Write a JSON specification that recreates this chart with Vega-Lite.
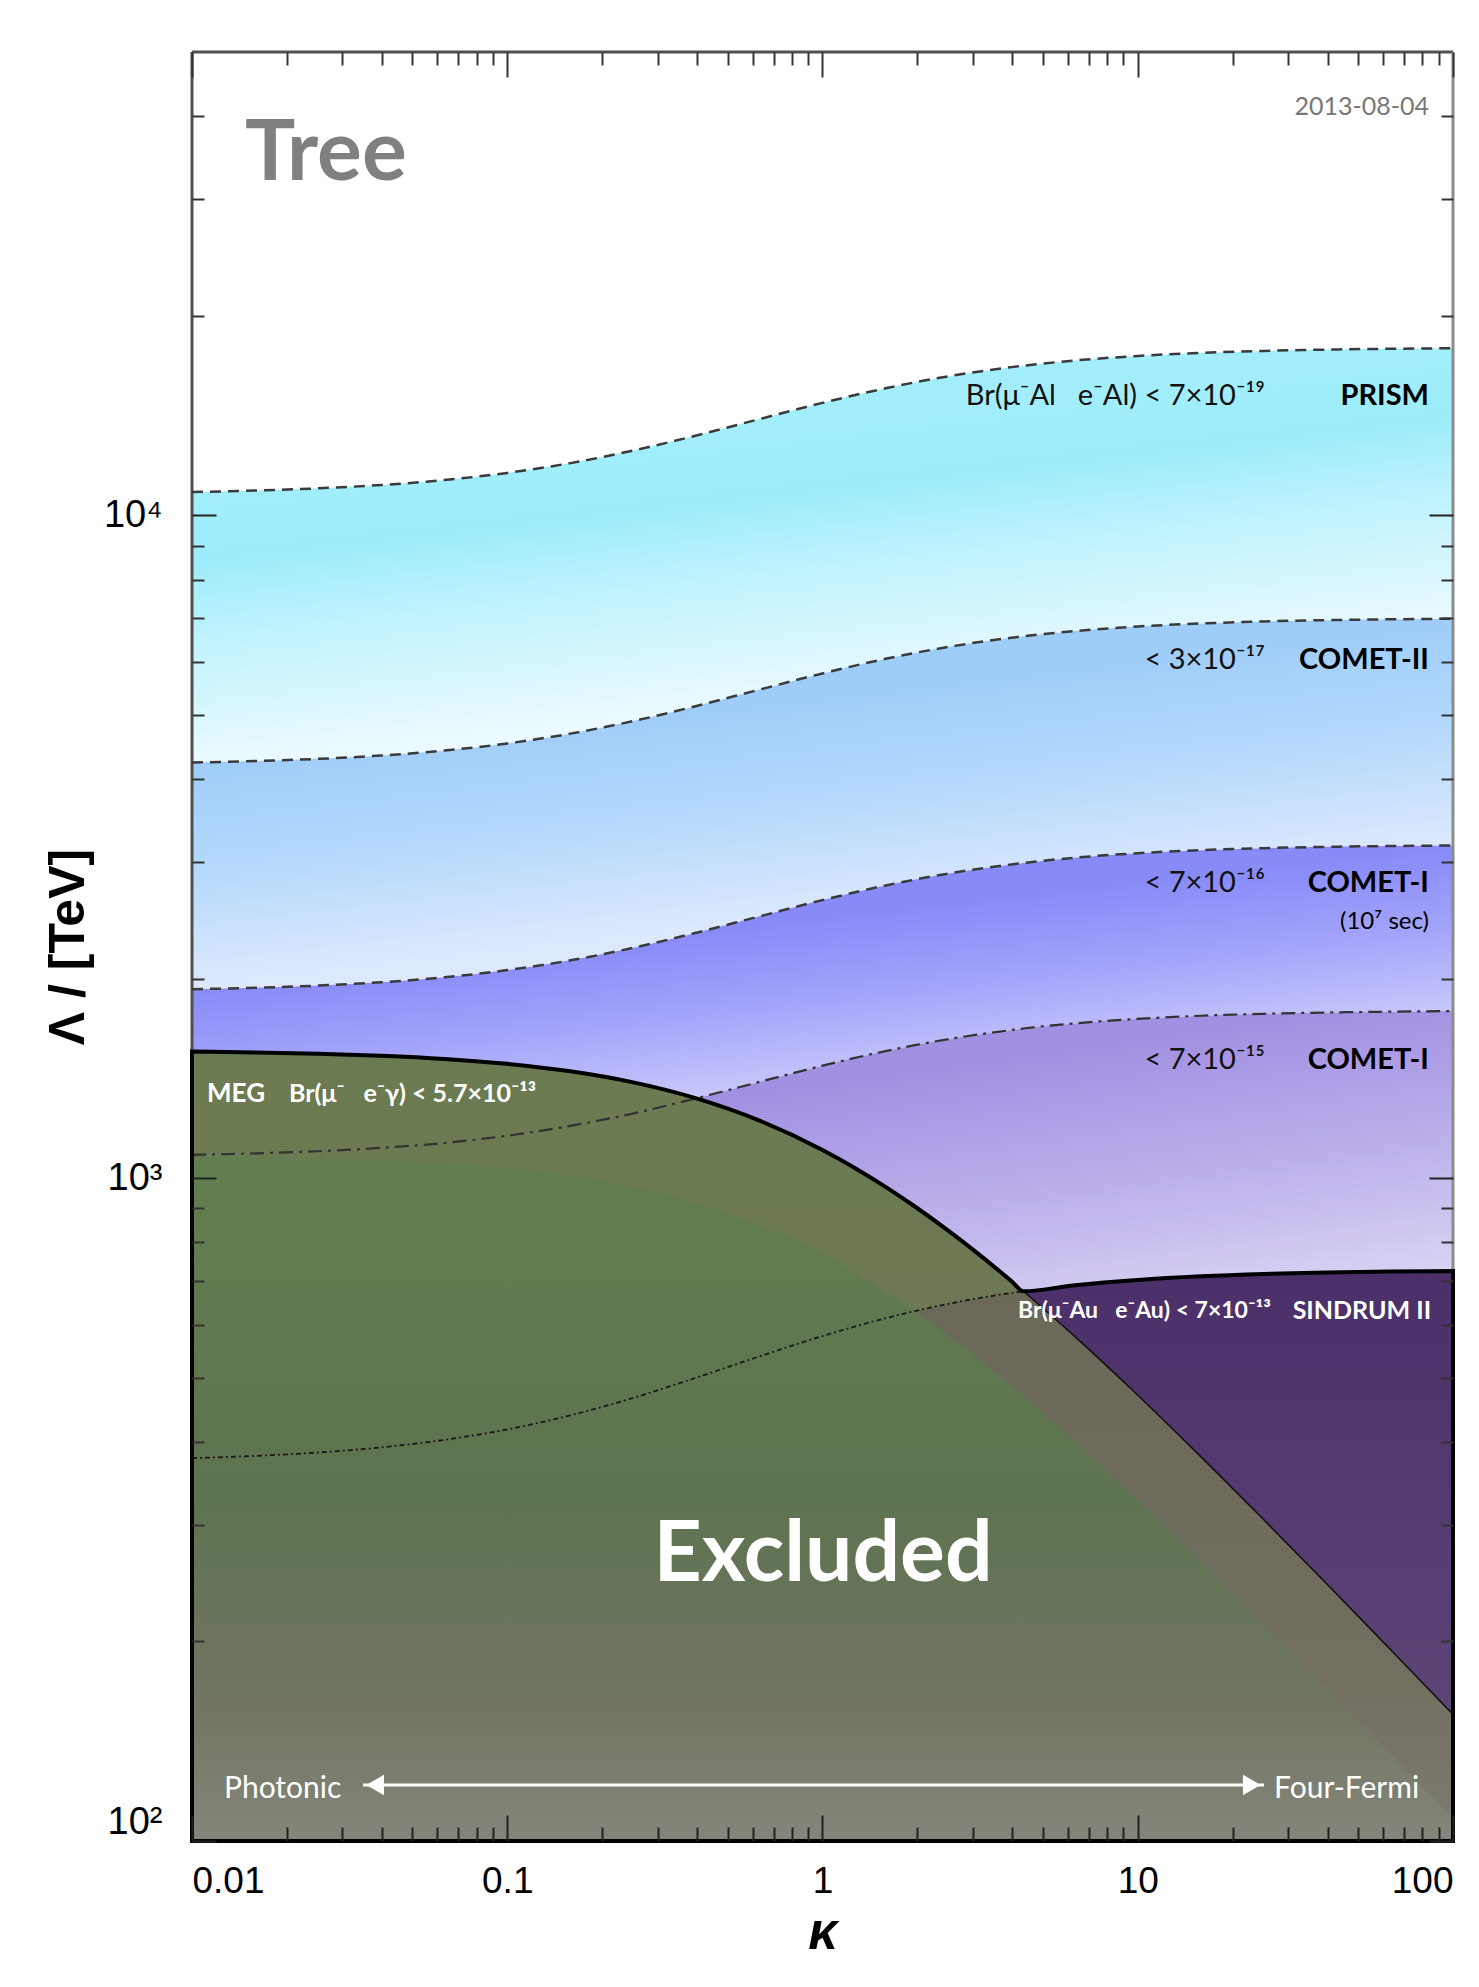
{
  "$schema": "https://vega.github.io/schema/vega-lite/v6.json",
  "width": 1261,
  "height": 1789,
  "autosize": "none",
  "padding": {"left": 192, "top": 52, "right": 26, "bottom": 146},
  "background": "#ffffff",
  "config": {"view": {"stroke": null}, "axis": {"grid": false}},
  "datasets": {
    "curves": [
      {"k": 0.01, "prism": 10844, "comet2": 4237, "comet1L": 1928, "comet1": 1084, "sindrum": 378.1, "meg": 1552.3, "meg11": 1079.6, "limit": 1552.3},
      {"k": 0.01585, "prism": 10898, "comet2": 4258, "comet1L": 1937, "comet1": 1090, "sindrum": 381.1, "meg": 1547.8, "meg11": 1076.5, "limit": 1547.8},
      {"k": 0.02512, "prism": 10982, "comet2": 4291, "comet1L": 1952, "comet1": 1098, "sindrum": 385.6, "meg": 1540.8, "meg11": 1071.6, "limit": 1540.8},
      {"k": 0.03981, "prism": 11110, "comet2": 4341, "comet1L": 1975, "comet1": 1111, "sindrum": 392.5, "meg": 1529.8, "meg11": 1064.0, "limit": 1529.8},
      {"k": 0.0631, "prism": 11304, "comet2": 4416, "comet1L": 2009, "comet1": 1130, "sindrum": 402.8, "meg": 1513.0, "meg11": 1052.3, "limit": 1513.0},
      {"k": 0.1, "prism": 11587, "comet2": 4527, "comet1L": 2060, "comet1": 1159, "sindrum": 417.8, "meg": 1487.4, "meg11": 1034.5, "limit": 1487.4},
      {"k": 0.1585, "prism": 11988, "comet2": 4684, "comet1L": 2131, "comet1": 1199, "sindrum": 438.7, "meg": 1449.3, "meg11": 1008.0, "limit": 1449.3},
      {"k": 0.2512, "prism": 12524, "comet2": 4893, "comet1L": 2226, "comet1": 1252, "sindrum": 466.2, "meg": 1394.6, "meg11": 970.0, "limit": 1394.6},
      {"k": 0.3981, "prism": 13196, "comet2": 5156, "comet1L": 2346, "comet1": 1320, "sindrum": 500.1, "meg": 1319.3, "meg11": 917.6, "limit": 1319.3},
      {"k": 0.631, "prism": 13969, "comet2": 5458, "comet1L": 2483, "comet1": 1397, "sindrum": 538.4, "meg": 1221.5, "meg11": 849.6, "limit": 1221.5},
      {"k": 1, "prism": 14779, "comet2": 5774, "comet1L": 2627, "comet1": 1478, "sindrum": 577.8, "meg": 1103.1, "meg11": 767.2, "limit": 1103.1},
      {"k": 1.585, "prism": 15546, "comet2": 6074, "comet1L": 2764, "comet1": 1555, "sindrum": 614.8, "meg": 970.3, "meg11": 674.8, "limit": 970.3},
      {"k": 1.9635, "prism": 15870, "comet2": 6200, "comet1L": 2821, "comet1": 1587, "sindrum": 630.3, "meg": 906.2, "meg11": 630.3, "limit": 906.2},
      {"k": 2.512, "prism": 16208, "comet2": 6332, "comet1L": 2881, "comet1": 1621, "sindrum": 646.4, "meg": 832.4, "meg11": 579.0, "limit": 832.4},
      {"k": 3.981, "prism": 16732, "comet2": 6537, "comet1L": 2974, "comet1": 1673, "sindrum": 671.2, "meg": 699.0, "meg11": 486.2, "limit": 699.0},
      {"k": 4.34, "prism": 16815, "comet2": 6570, "comet1L": 2989, "comet1": 1682, "sindrum": 675.1, "meg": 675.1, "meg11": 469.5, "limit": 675.1},
      {"k": 6.31, "prism": 17121, "comet2": 6689, "comet1L": 3044, "comet1": 1712, "sindrum": 689.5, "meg": 577.0, "meg11": 401.3, "limit": 689.5},
      {"k": 10, "prism": 17394, "comet2": 6796, "comet1L": 3092, "comet1": 1739, "sindrum": 702.3, "meg": 470.4, "meg11": 327.1, "limit": 702.3},
      {"k": 15.85, "prism": 17580, "comet2": 6868, "comet1L": 3125, "comet1": 1758, "sindrum": 711.0, "meg": 380.0, "meg11": 264.3, "limit": 711.0},
      {"k": 25.12, "prism": 17703, "comet2": 6916, "comet1L": 3147, "comet1": 1770, "sindrum": 716.8, "meg": 305.2, "meg11": 212.3, "limit": 716.8},
      {"k": 39.81, "prism": 17783, "comet2": 6948, "comet1L": 3161, "comet1": 1778, "sindrum": 720.5, "meg": 244.2, "meg11": 169.8, "limit": 720.5},
      {"k": 63.1, "prism": 17834, "comet2": 6968, "comet1L": 3170, "comet1": 1783, "sindrum": 722.9, "meg": 194.8, "meg11": 135.5, "limit": 722.9},
      {"k": 100, "prism": 17867, "comet2": 6981, "comet1L": 3176, "comet1": 1787, "sindrum": 724.5, "meg": 155.2, "meg11": 108.0, "limit": 724.5}
    ],
    "notes": [
      {"kind": "stamp", "label": "Tree", "k": 0.01473, "L": 32060},
      {"kind": "date", "label": "2013-08-04", "k": 83.9, "L": 40190},
      {"kind": "rate", "label": "Br(μ⁻Al\u2002 e⁻Al) < 7×10⁻¹⁹", "k": 25.33, "L": 14650},
      {"kind": "rate", "label": "< 3×10⁻¹⁷", "k": 25.33, "L": 5866},
      {"kind": "rate", "label": "< 7×10⁻¹⁶", "k": 25.33, "L": 2703},
      {"kind": "rate", "label": "< 7×10⁻¹⁵", "k": 25.33, "L": 1461},
      {"kind": "expt", "label": "PRISM", "k": 83.9, "L": 14650},
      {"kind": "expt", "label": "COMET-II", "k": 83.9, "L": 5866},
      {"kind": "expt", "label": "COMET-I", "k": 83.9, "L": 2700},
      {"kind": "expt", "label": "COMET-I", "k": 83.9, "L": 1462},
      {"kind": "runtime", "label": "(10⁷ sec)", "k": 83.9, "L": 2377},
      {"kind": "megname", "label": "MEG", "k": 0.01116, "L": 1303},
      {"kind": "megrate", "label": "Br(μ⁻\u2002 e⁻γ) < 5.7×10⁻¹³", "k": 0.0203, "L": 1303},
      {"kind": "aurate", "label": "Br(μ⁻Au\u2002 e⁻Au) < 7×10⁻¹³", "k": 4.17, "L": 615},
      {"kind": "sindname", "label": "SINDRUM II", "k": 85.2, "L": 613},
      {"kind": "excluded", "label": "Excluded", "k": 1.004, "L": 246.8},
      {"kind": "regime", "label": "Photonic", "k": 0.01263, "L": 116},
      {"kind": "regime", "label": "Four-Fermi", "k": 27.05, "L": 116}
    ],
    "arrow": [
      {"k": 0.0349, "L": 121.5},
      {"k": 25.15, "L": 121.5}
    ],
    "heads": [
      {"k": 0.0381, "L": 121.5, "dir": "left"},
      {"k": 23.0, "L": 121.5, "dir": "right"}
    ]
  },
  "layer": [
    {
      "data": {"name": "curves"},
      "mark": {"type": "area", "interpolate": "monotone",
        "fill": {"gradient": "linear", "x1": 0, "y1": 0, "x2": 0.308, "y2": 0.894,
          "stops": [
            {"offset": 0.345, "color": "#a2eefc"},
            {"offset": 0.51, "color": "#9cecfa"},
            {"offset": 0.705, "color": "#c0f3fd"},
            {"offset": 0.935, "color": "#e0f8fe"},
            {"offset": 1, "color": "#eafaff"}
          ]}},
      "encoding": {
        "x": {"field": "k", "type": "quantitative", "scale": {"type": "log", "domain": [0.01, 100], "nice": false},
          "axis": {"orient": "bottom", "values": [0.01, 0.1, 1, 10, 100], "tickSize": -26, "tickWidth": 2, "tickColor": "#222",
            "domain": false, "labelFlush": true, "labelFont": "Liberation Sans", "labelFontSize": 37, "labelColor": "#000",
            "labelPadding": 48, "labelOverlap": false, "labelBound": false,
            "labelExpr": "datum.value < 0.05 ? '0.01' : datum.value < 0.5 ? '0.1' : datum.value < 5 ? '1' : datum.value < 50 ? '10' : '100'",
            "title": "κ", "titleFont": "Liberation Sans", "titleFontSize": 52, "titleFontStyle": "italic", "titleFontWeight": "bold",
            "titleColor": "#000", "titlePadding": 8, "zindex": 1}},
        "y": {"field": "prism", "type": "quantitative", "scale": {"type": "log", "domain": [100, 50000], "nice": false},
          "axis": {"orient": "left", "values": [100, 1000, 10000], "tickSize": -24, "tickWidth": 2, "tickColor": "#222",
            "domain": false, "labelFlush": true, "labelFont": "Liberation Sans", "labelFontSize": 38, "labelColor": "#000",
            "labelPadding": 54, "labelOverlap": false, "labelBound": false,
            "labelExpr": "datum.value < 500 ? '10²' : datum.value < 5000 ? '10³' : '10⁴'",
            "title": "Λ / [TeV]", "titleFont": "Liberation Sans", "titleFontSize": 50, "titleFontWeight": "bold",
            "titleColor": "#000", "titlePadding": 10, "zindex": 1}},
        "y2": {"field": "comet2"}
      }
    },
    {
      "data": {"name": "curves"},
      "mark": {"type": "area", "interpolate": "monotone",
        "fill": {"gradient": "linear", "x1": 0, "y1": 0, "x2": 0.337, "y2": 0.869,
          "stops": [
            {"offset": 0.388, "color": "#9fcdf9"},
            {"offset": 0.68, "color": "#b4d9fb"},
            {"offset": 1, "color": "#dde9fd"}
          ]}},
      "encoding": {
        "x": {"field": "k", "type": "quantitative", "scale": {"type": "log", "domain": [0.01, 100], "nice": false},
          "axis": {"orient": "bottom", "values": [0.02, 0.03, 0.04, 0.05, 0.06, 0.07, 0.08, 0.09, 0.2, 0.3, 0.4, 0.5, 0.6, 0.7, 0.8, 0.9, 2, 3, 4, 5, 6, 7, 8, 9, 20, 30, 40, 50, 60, 70, 80, 90],
            "tickSize": -14, "tickWidth": 2, "tickColor": "#222", "domain": false, "labels": false, "title": null, "zindex": 1}},
        "y": {"field": "comet2", "type": "quantitative", "scale": {"type": "log", "domain": [100, 50000], "nice": false},
          "axis": {"orient": "left", "values": [200, 300, 400, 500, 600, 700, 800, 900, 2000, 3000, 4000, 5000, 6000, 7000, 8000, 9000, 20000, 30000, 40000],
            "tickSize": -12, "tickWidth": 2, "tickColor": "#333", "domain": false, "labels": false, "title": null, "zindex": 1}},
        "y2": {"field": "comet1L"}
      }
    },
    {
      "data": {"name": "curves"},
      "mark": {"type": "area", "interpolate": "monotone",
        "fill": {"gradient": "linear", "x1": 0, "y1": 0, "x2": 0.382, "y2": 0.823,
          "stops": [
            {"offset": 0.464, "color": "#888af8"},
            {"offset": 0.73, "color": "#a3a4fa"},
            {"offset": 1, "color": "#c8c8fb"}
          ]}},
      "encoding": {
        "x": {"field": "k", "type": "quantitative", "scale": {"type": "log", "domain": [0.01, 100], "nice": false},
          "axis": {"orient": "top", "values": [0.01, 0.1, 1, 10, 100], "tickSize": -25, "tickWidth": 2, "tickColor": "#333",
            "domain": false, "labels": false, "title": null, "zindex": 1}},
        "y": {"field": "comet1L", "type": "quantitative", "scale": {"type": "log", "domain": [100, 50000], "nice": false},
          "axis": {"orient": "right", "values": [100, 1000, 10000], "tickSize": -24, "tickWidth": 2, "tickColor": "#222",
            "domain": false, "labels": false, "title": null, "zindex": 1}},
        "y2": {"field": "comet1"}
      }
    },
    {
      "data": {"name": "curves"},
      "mark": {"type": "area", "interpolate": "monotone",
        "fill": {"gradient": "linear", "x1": 0, "y1": 0, "x2": 0.345, "y2": 0.862,
          "stops": [
            {"offset": 0.36, "color": "#a190e2"},
            {"offset": 0.65, "color": "#b9ace9"},
            {"offset": 1, "color": "#dcd5f4"}
          ]}},
      "encoding": {
        "x": {"field": "k", "type": "quantitative", "scale": {"type": "log", "domain": [0.01, 100], "nice": false},
          "axis": {"orient": "top", "values": [0.02, 0.03, 0.04, 0.05, 0.06, 0.07, 0.08, 0.09, 0.2, 0.3, 0.4, 0.5, 0.6, 0.7, 0.8, 0.9, 2, 3, 4, 5, 6, 7, 8, 9, 20, 30, 40, 50, 60, 70, 80, 90],
            "tickSize": -13, "tickWidth": 2, "tickColor": "#333", "domain": false, "labels": false, "title": null, "zindex": 1}},
        "y": {"field": "comet1", "type": "quantitative", "scale": {"type": "log", "domain": [100, 50000], "nice": false},
          "axis": {"orient": "right", "values": [200, 300, 400, 500, 600, 700, 800, 900, 2000, 3000, 4000, 5000, 6000, 7000, 8000, 9000, 20000, 30000, 40000],
            "tickSize": -12, "tickWidth": 2, "tickColor": "#333", "domain": false, "labels": false, "title": null, "zindex": 1}},
        "y2": {"field": "sindrum"}
      }
    },
    {
      "data": {"values": [{}]},
      "mark": {"type": "rule", "color": "#505050", "strokeWidth": 3},
      "encoding": {
        "x": {"datum": 0.01, "type": "quantitative", "scale": {"type": "log", "domain": [0.01, 100], "nice": false}, "axis": null},
        "x2": {"datum": 100},
        "y": {"datum": 50000, "type": "quantitative", "scale": {"type": "log", "domain": [100, 50000], "nice": false}, "axis": null}
      }
    },
    {
      "data": {"values": [{}]},
      "mark": {"type": "rule", "color": "#505050", "strokeWidth": 3},
      "encoding": {
        "x": {"datum": 0.01, "type": "quantitative", "scale": {"type": "log", "domain": [0.01, 100], "nice": false}, "axis": null},
        "y": {"datum": 100, "type": "quantitative", "scale": {"type": "log", "domain": [100, 50000], "nice": false}, "axis": null},
        "y2": {"datum": 50000}
      }
    },
    {
      "data": {"values": [{}]},
      "mark": {"type": "rule", "color": "#8c8c8c", "strokeWidth": 3},
      "encoding": {
        "x": {"datum": 100, "type": "quantitative", "scale": {"type": "log", "domain": [0.01, 100], "nice": false}, "axis": null},
        "y": {"datum": 100, "type": "quantitative", "scale": {"type": "log", "domain": [100, 50000], "nice": false}, "axis": null},
        "y2": {"datum": 50000}
      }
    },
    {
      "data": {"name": "curves"},
      "mark": {"type": "area", "interpolate": "monotone",
        "fill": {"gradient": "linear", "x1": 0, "y1": 0, "x2": 0, "y2": 1,
          "stops": [{"offset": 0, "color": "#4b2f69"}, {"offset": 0.78, "color": "#5d4577"}, {"offset": 1, "color": "#6a5580"}]}},
      "encoding": {
        "x": {"field": "k", "type": "quantitative", "axis": null},
        "y": {"field": "sindrum", "type": "quantitative", "axis": null},
        "y2": {"datum": 100}
      }
    },
    {
      "data": {"name": "curves"},
      "mark": {"type": "area", "interpolate": "monotone",
        "fill": {"gradient": "linear", "x1": 0, "y1": 0, "x2": 0, "y2": 1,
          "stops": [{"offset": 0, "color": "#6b7b51"}, {"offset": 1, "color": "#6f7358"}]}},
      "encoding": {
        "x": {"field": "k", "type": "quantitative", "axis": null},
        "y": {"field": "meg", "type": "quantitative", "axis": null},
        "y2": {"datum": 100}
      }
    },
    {
      "data": {"name": "curves"},
      "transform": [{"filter": "datum.k <= 4.35"}],
      "mark": {"type": "area", "interpolate": "monotone",
        "fill": {"gradient": "linear", "x1": 0, "y1": 0, "x2": 0, "y2": 1,
          "stops": [{"offset": 0, "color": "#6c6858"}, {"offset": 0.7, "color": "#726e60"}, {"offset": 1, "color": "#7e7c70"}]}},
      "encoding": {
        "x": {"field": "k", "type": "quantitative", "axis": null},
        "y": {"field": "sindrum", "type": "quantitative", "axis": null},
        "y2": {"datum": 100}
      }
    },
    {
      "data": {"name": "curves"},
      "transform": [{"filter": "datum.k >= 4.33"}],
      "mark": {"type": "area", "interpolate": "monotone",
        "fill": {"gradient": "linear", "x1": 0, "y1": 0, "x2": 0, "y2": 1,
          "stops": [{"offset": 0, "color": "#6c6858"}, {"offset": 0.7, "color": "#726e60"}, {"offset": 1, "color": "#7e7c70"}]}},
      "encoding": {
        "x": {"field": "k", "type": "quantitative", "axis": null},
        "y": {"field": "meg", "type": "quantitative", "axis": null},
        "y2": {"datum": 100}
      }
    },
    {
      "data": {"name": "curves"},
      "mark": {"type": "area", "interpolate": "monotone",
        "fill": {"gradient": "linear", "x1": 0, "y1": 0, "x2": 0, "y2": 1,
          "stops": [{"offset": 0, "color": "#627d4f"}, {"offset": 0.5, "color": "#5e7350"}, {"offset": 0.8, "color": "#6f7562"}, {"offset": 1, "color": "#85867a"}]}},
      "encoding": {
        "x": {"field": "k", "type": "quantitative", "axis": null},
        "y": {"field": "meg11", "type": "quantitative", "axis": null},
        "y2": {"datum": 100}
      }
    },
    {
      "data": {"name": "curves"},
      "mark": {"type": "line", "interpolate": "monotone", "color": "#3a3a3a", "strokeWidth": 2.5, "strokeDash": [11, 7]},
      "encoding": {
        "x": {"field": "k", "type": "quantitative", "axis": null},
        "y": {"field": "prism", "type": "quantitative", "axis": null}
      }
    },
    {
      "data": {"name": "curves"},
      "mark": {"type": "line", "interpolate": "monotone", "color": "#3a3a3a", "strokeWidth": 2.5, "strokeDash": [11, 7]},
      "encoding": {
        "x": {"field": "k", "type": "quantitative", "axis": null},
        "y": {"field": "comet2", "type": "quantitative", "axis": null}
      }
    },
    {
      "data": {"name": "curves"},
      "mark": {"type": "line", "interpolate": "monotone", "color": "#3a3a3a", "strokeWidth": 2.5, "strokeDash": [11, 7]},
      "encoding": {
        "x": {"field": "k", "type": "quantitative", "axis": null},
        "y": {"field": "comet1L", "type": "quantitative", "axis": null}
      }
    },
    {
      "data": {"name": "curves"},
      "mark": {"type": "line", "interpolate": "monotone", "color": "#333333", "strokeWidth": 2.2, "strokeDash": [14, 6, 3, 6]},
      "encoding": {
        "x": {"field": "k", "type": "quantitative", "axis": null},
        "y": {"field": "comet1", "type": "quantitative", "axis": null}
      }
    },
    {
      "data": {"name": "curves"},
      "transform": [{"filter": "datum.k <= 4.35"}],
      "mark": {"type": "line", "interpolate": "monotone", "color": "#1a1a1a", "strokeWidth": 1.8, "strokeDash": [5, 3, 2, 3]},
      "encoding": {
        "x": {"field": "k", "type": "quantitative", "axis": null},
        "y": {"field": "sindrum", "type": "quantitative", "axis": null}
      }
    },
    {
      "data": {"name": "curves"},
      "transform": [{"filter": "datum.k >= 4.33"}],
      "mark": {"type": "line", "interpolate": "monotone", "color": "#111111", "strokeWidth": 1.6},
      "encoding": {
        "x": {"field": "k", "type": "quantitative", "axis": null},
        "y": {"field": "meg", "type": "quantitative", "axis": null}
      }
    },
    {
      "data": {"name": "curves"},
      "mark": {"type": "area", "interpolate": "monotone", "fillOpacity": 0, "stroke": "#000000", "strokeWidth": 4},
      "encoding": {
        "x": {"field": "k", "type": "quantitative", "axis": null},
        "y": {"field": "limit", "type": "quantitative", "axis": null},
        "y2": {"datum": 100}
      }
    },
    {
      "data": {"name": "arrow"},
      "mark": {"type": "line", "color": "#ffffff", "strokeWidth": 3},
      "encoding": {
        "x": {"field": "k", "type": "quantitative", "axis": null},
        "y": {"field": "L", "type": "quantitative", "axis": null}
      }
    },
    {
      "data": {"name": "heads"},
      "mark": {"type": "point", "filled": true, "size": 420, "color": "#ffffff", "opacity": 1},
      "encoding": {
        "x": {"field": "k", "type": "quantitative", "axis": null},
        "y": {"field": "L", "type": "quantitative", "axis": null},
        "shape": {"field": "dir", "type": "nominal", "scale": {"domain": ["left", "right"], "range": ["triangle-left", "triangle-right"]}, "legend": null}
      }
    },
    {
      "data": {"name": "notes"},
      "transform": [{"filter": "datum.kind === 'stamp'"}],
      "mark": {"type": "text", "align": "left", "baseline": "alphabetic", "font": "Lato", "fontWeight": "bold", "fontSize": 84, "color": "#808080"},
      "encoding": {
        "x": {"field": "k", "type": "quantitative", "axis": null},
        "y": {"field": "L", "type": "quantitative", "axis": null},
        "text": {"field": "label"}
      }
    },
    {
      "data": {"name": "notes"},
      "transform": [{"filter": "datum.kind === 'date'"}],
      "mark": {"type": "text", "align": "right", "baseline": "alphabetic", "font": "Lato", "fontSize": 25, "color": "#777777"},
      "encoding": {
        "x": {"field": "k", "type": "quantitative", "axis": null},
        "y": {"field": "L", "type": "quantitative", "axis": null},
        "text": {"field": "label"}
      }
    },
    {
      "data": {"name": "notes"},
      "transform": [{"filter": "datum.kind === 'rate'"}],
      "mark": {"type": "text", "align": "right", "baseline": "alphabetic", "font": "Lato", "fontSize": 29, "color": "#111111"},
      "encoding": {
        "x": {"field": "k", "type": "quantitative", "axis": null},
        "y": {"field": "L", "type": "quantitative", "axis": null},
        "text": {"field": "label"}
      }
    },
    {
      "data": {"name": "notes"},
      "transform": [{"filter": "datum.kind === 'expt'"}],
      "mark": {"type": "text", "align": "right", "baseline": "alphabetic", "font": "Lato", "fontWeight": "bold", "fontSize": 29, "color": "#000000"},
      "encoding": {
        "x": {"field": "k", "type": "quantitative", "axis": null},
        "y": {"field": "L", "type": "quantitative", "axis": null},
        "text": {"field": "label"}
      }
    },
    {
      "data": {"name": "notes"},
      "transform": [{"filter": "datum.kind === 'runtime'"}],
      "mark": {"type": "text", "align": "right", "baseline": "alphabetic", "font": "Lato", "fontSize": 24, "color": "#000000"},
      "encoding": {
        "x": {"field": "k", "type": "quantitative", "axis": null},
        "y": {"field": "L", "type": "quantitative", "axis": null},
        "text": {"field": "label"}
      }
    },
    {
      "data": {"name": "notes"},
      "transform": [{"filter": "datum.kind === 'megname'"}],
      "mark": {"type": "text", "align": "left", "baseline": "alphabetic", "font": "Lato", "fontWeight": "bold", "fontSize": 26, "color": "#ffffff"},
      "encoding": {
        "x": {"field": "k", "type": "quantitative", "axis": null},
        "y": {"field": "L", "type": "quantitative", "axis": null},
        "text": {"field": "label"}
      }
    },
    {
      "data": {"name": "notes"},
      "transform": [{"filter": "datum.kind === 'megrate'"}],
      "mark": {"type": "text", "align": "left", "baseline": "alphabetic", "font": "Lato", "fontWeight": "bold", "fontSize": 25, "color": "#ffffff"},
      "encoding": {
        "x": {"field": "k", "type": "quantitative", "axis": null},
        "y": {"field": "L", "type": "quantitative", "axis": null},
        "text": {"field": "label"}
      }
    },
    {
      "data": {"name": "notes"},
      "transform": [{"filter": "datum.kind === 'aurate'"}],
      "mark": {"type": "text", "align": "left", "baseline": "alphabetic", "font": "Lato", "fontWeight": "bold", "fontSize": 23, "color": "#ffffff"},
      "encoding": {
        "x": {"field": "k", "type": "quantitative", "axis": null},
        "y": {"field": "L", "type": "quantitative", "axis": null},
        "text": {"field": "label"}
      }
    },
    {
      "data": {"name": "notes"},
      "transform": [{"filter": "datum.kind === 'sindname'"}],
      "mark": {"type": "text", "align": "right", "baseline": "alphabetic", "font": "Lato", "fontWeight": "bold", "fontSize": 25, "color": "#ffffff"},
      "encoding": {
        "x": {"field": "k", "type": "quantitative", "axis": null},
        "y": {"field": "L", "type": "quantitative", "axis": null},
        "text": {"field": "label"}
      }
    },
    {
      "data": {"name": "notes"},
      "transform": [{"filter": "datum.kind === 'excluded'"}],
      "mark": {"type": "text", "align": "center", "baseline": "alphabetic", "font": "Lato", "fontWeight": "bold", "fontSize": 84, "color": "#ffffff"},
      "encoding": {
        "x": {"field": "k", "type": "quantitative", "axis": null},
        "y": {"field": "L", "type": "quantitative", "axis": null},
        "text": {"field": "label"}
      }
    },
    {
      "data": {"name": "notes"},
      "transform": [{"filter": "datum.kind === 'regime'"}],
      "mark": {"type": "text", "align": "left", "baseline": "alphabetic", "font": "Lato", "fontSize": 30, "color": "#ffffff"},
      "encoding": {
        "x": {"field": "k", "type": "quantitative", "axis": null},
        "y": {"field": "L", "type": "quantitative", "axis": null},
        "text": {"field": "label"}
      }
    }
  ],
  "resolve": {"axis": {"x": "independent", "y": "independent"}}
}
